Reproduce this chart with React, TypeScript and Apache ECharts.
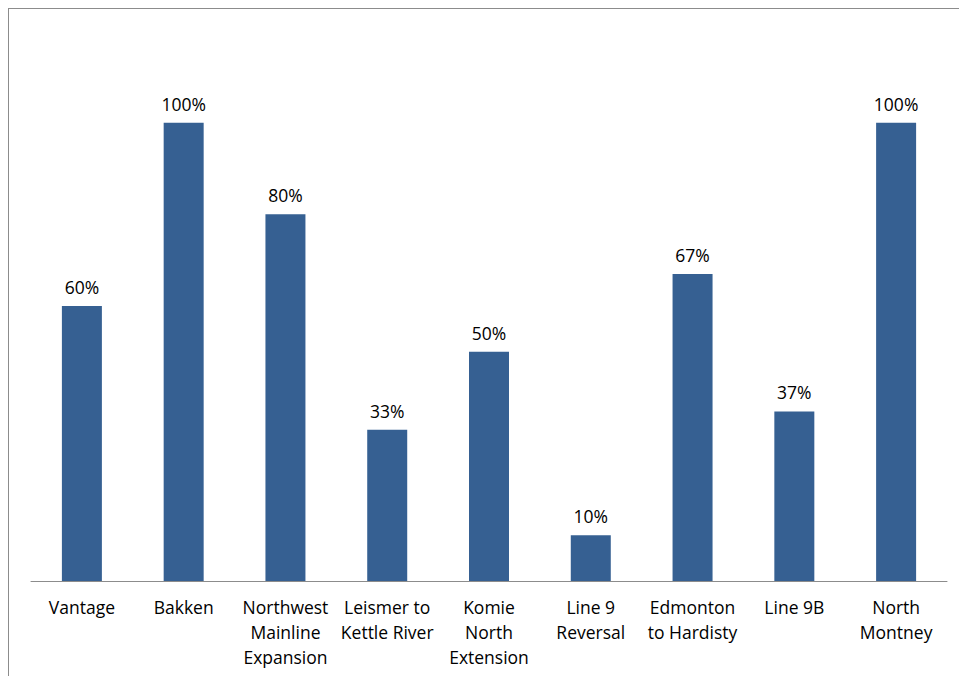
import React, { useEffect, useRef } from "react";
import * as echarts from "echarts";

const categories = [
  "Vantage",
  "Bakken",
  "Northwest\nMainline\nExpansion",
  "Leismer to\nKettle River",
  "Komie\nNorth\nExtension",
  "Line 9\nReversal",
  "Edmonton\nto Hardisty",
  "Line 9B",
  "North\nMontney",
];
const values = [60, 100, 80, 33, 50, 10, 67, 37, 100];

const FONT = "'Open Sans', 'Noto Sans', sans-serif";

export default function App() {
  const ref = useRef<HTMLDivElement>(null);
  useEffect(() => {
    if (!ref.current) return;
    const chart = echarts.init(ref.current, null, { renderer: "svg" });
    chart.setOption({
      animation: false,
      backgroundColor: "#ffffff",
      grid: { left: 22, right: 12, top: 22, bottom: 95, containLabel: false },
      xAxis: {
        type: "category",
        data: categories,
        axisLine: { show: true, lineStyle: { color: "#8c8c8c", width: 1 } },
        axisTick: { show: false },
        axisLabel: {
          interval: 0,
          color: "#000000",
          fontFamily: FONT,
          fontSize: 17.5,
          lineHeight: 25,
          margin: 13,
        },
      },
      yAxis: {
        type: "value",
        min: 0,
        max: 120,
        show: false,
        splitLine: { show: false },
      },
      series: [
        {
          type: "bar",
          data: values,
          barWidth: 40,
          itemStyle: { color: "#366092" },
          label: {
            show: true,
            position: "top",
            distance: 10,
            color: "#000000",
            fontFamily: FONT,
            fontSize: 17.5,
            formatter: (p: any) => `${p.value}%`,
          },
        },
      ],
    });
    return () => chart.dispose();
  }, []);
  return (
    <div
      style={{
        position: "fixed",
        left: 8,
        top: 8,
        width: 960,
        height: 680,
        borderTop: "1px solid #8c8c8c",
        borderLeft: "1px solid #8c8c8c",
        boxSizing: "border-box",
        overflow: "hidden",
        background: "#ffffff",
      }}
    >
      <div ref={ref} style={{ width: 950, height: 667 }} />
    </div>
  );
}
